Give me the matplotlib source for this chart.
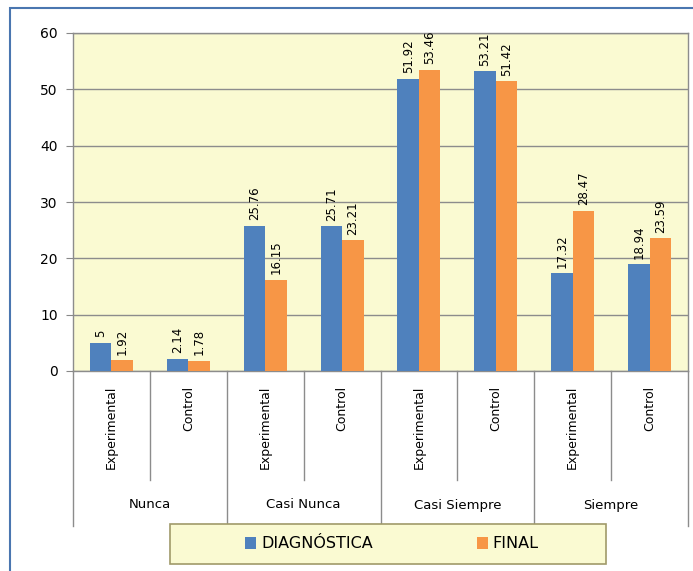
import numpy as np
import matplotlib.pyplot as plt
from matplotlib.patches import Rectangle
from matplotlib.lines import Line2D

# data
grupos = ['Nunca', 'Casi Nunca', 'Casi Siempre', 'Siempre']
subgrupos = ['Experimental', 'Control']
diagnostica = [5, 2.14, 25.76, 25.71, 51.92, 53.21, 17.32, 18.94]
final = [1.92, 1.78, 16.15, 23.21, 53.46, 51.42, 28.47, 23.59]
etiq_diag = ['5', '2.14', '25.76', '25.71', '51.92', '53.21', '17.32', '18.94']
etiq_final = ['1.92', '1.78', '16.15', '23.21', '53.46', '51.42', '28.47', '23.59']

azul = '#4F81BD'
naranja = '#F79646'
fondo = '#FAFAD2'

W, H = 693, 571
fig = plt.figure(figsize=(W / 100, H / 100), dpi=100)

# outer chart border (cut on right and bottom)
fig.patches.append(Rectangle((10 / W, -0.1), 1.2, 1 - 8 / H + 0.1, transform=fig.transFigure,
                             fill=False, edgecolor='#4A76B0', linewidth=1.5))

ax = fig.add_axes([73 / W, 1 - 371 / H, (688 - 73) / W, (371 - 33) / H])
ax.set_facecolor(fondo)

x = np.arange(len(diagnostica))
w = 0.28
b1 = ax.bar(x - w / 2, diagnostica, w, color=azul, label='DIAGNÓSTICA', zorder=3)
b2 = ax.bar(x + w / 2, final, w, color=naranja, label='FINAL', zorder=3)

for rect, t in zip(b1, etiq_diag):
    ax.annotate(t, (rect.get_x() + rect.get_width() / 2, rect.get_height()),
                xytext=(0, 4), textcoords='offset points', rotation=90,
                ha='center', va='bottom', fontsize=8.5)
for rect, t in zip(b2, etiq_final):
    ax.annotate(t, (rect.get_x() + rect.get_width() / 2, rect.get_height()),
                xytext=(0, 4), textcoords='offset points', rotation=90,
                ha='center', va='bottom', fontsize=8.5)

ax.set_xlim(-0.5, len(x) - 0.5)
ax.set_ylim(0, 60)
ax.set_yticks(range(0, 61, 10))
ax.tick_params(axis='y', labelsize=10, length=5, color='#888888', pad=6)
ax.set_xticks([])
ax.grid(axis='y', color='#8C8C8C', linewidth=1, zorder=1)
for s in ax.spines.values():
    s.set_color('#8C8C8C')
    s.set_linewidth(1)

# multi-level category axis
trans = ax.get_xaxis_transform()
per_px = 1 / (371 - 33)
for i in range(len(x) + 1):
    xx = i - 0.5
    if i % 2 == 0:
        y_end = -(526 - 371) * per_px
    else:
        y_end = -(480 - 371) * per_px
    ax.add_line(Line2D([xx, xx], [0, y_end], transform=trans, color='#8C8C8C',
                       linewidth=1, clip_on=False))
for i in range(len(x)):
    ax.text(i, -(386 - 371) * per_px, subgrupos[i % 2], transform=trans, rotation=90,
            ha='center', va='top', fontsize=9)
for g, nombre in enumerate(grupos):
    ax.text(2 * g + 0.5, -(505 - 371) * per_px, nombre, transform=trans,
            ha='center', va='center', fontsize=9.5)

# legend box drawn separately, legend entries centred inside
fig.patches.append(Rectangle((170 / W, 1 - 564 / H), (606 - 170) / W, 40 / H,
                             transform=fig.transFigure, facecolor=fondo,
                             edgecolor='#A09A6A', linewidth=1.2))
leg = fig.legend(handles=[b1, b2], loc='center', ncol=2,
                 bbox_to_anchor=(392 / W, 1 - 544 / H),
                 fontsize=11.5, frameon=False, handlelength=0.7,
                 handleheight=0.7, handletextpad=0.3, columnspacing=6.5)

fig.savefig('out.png', dpi=100)
